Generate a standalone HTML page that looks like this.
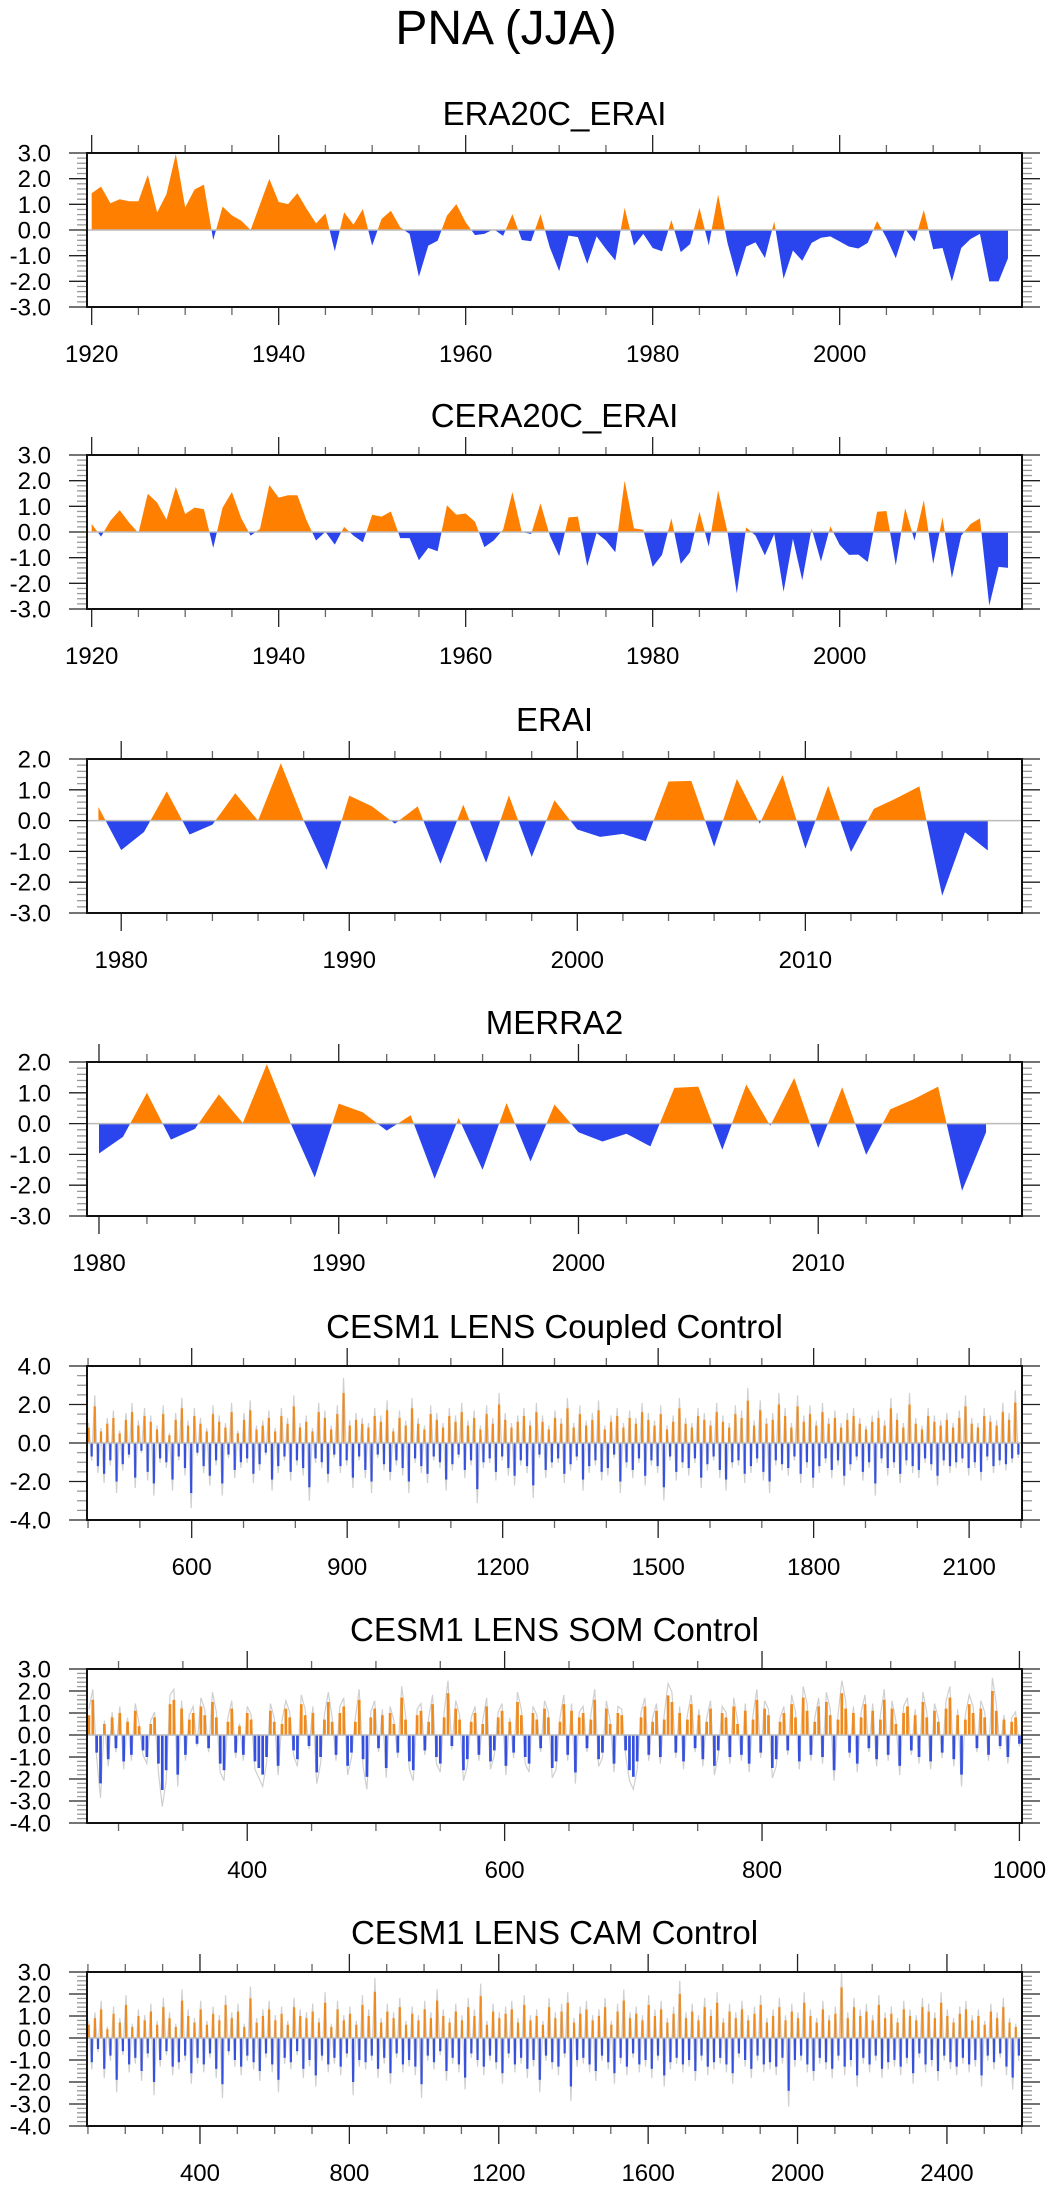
<!DOCTYPE html>
<html><head><meta charset="utf-8"><title>PNA (JJA)</title>
<style>
html,body{margin:0;padding:0;background:#fff;}
svg{display:block;font-family:"Liberation Sans",Arial,sans-serif;}
</style></head>
<body>
<svg id="fig" width="1049" height="2191" viewBox="0 0 1049 2191" xmlns="http://www.w3.org/2000/svg">
<rect x="0" y="0" width="1049" height="2191" fill="#fff"/>
<text x="506" y="44" font-size="48" text-anchor="middle" fill="#000">PNA (JJA)</text>
</svg>
<script>
const era20cVals=[1.43,1.69,1.04,1.2,1.12,1.12,2.15,0.68,1.4,2.96,0.88,1.58,1.77,-0.39,0.91,0.57,0.36,0.0,1.0,1.99,1.09,1.01,1.43,0.82,0.26,0.65,-0.83,0.69,0.21,0.82,-0.61,0.43,0.75,0.1,-0.15,-1.82,-0.61,-0.42,0.56,1.01,0.3,-0.2,-0.15,0.03,-0.23,0.62,-0.39,-0.44,0.62,-0.68,-1.6,-0.22,-0.28,-1.32,-0.25,-0.74,-1.19,0.86,-0.61,-0.15,-0.7,-0.83,0.39,-0.86,-0.55,0.86,-0.6,1.38,-0.5,-1.84,-0.65,-0.48,-1.09,0.33,-1.9,-0.8,-1.2,-0.5,-0.3,-0.25,-0.45,-0.65,-0.72,-0.5,0.35,-0.3,-1.1,0.05,-0.45,0.78,-0.75,-0.7,-2.0,-0.7,-0.35,-0.15,-2.0,-2.0,-1.1];
const cera20cVals=[0.31,-0.18,0.44,0.85,0.37,-0.04,1.49,1.15,0.48,1.76,0.7,0.95,0.89,-0.62,0.95,1.56,0.53,-0.14,0.12,1.83,1.34,1.43,1.43,0.44,-0.33,0.01,-0.49,0.2,-0.14,-0.4,0.67,0.6,0.8,-0.24,-0.24,-1.1,-0.62,-0.75,1.04,0.67,0.72,0.4,-0.59,-0.33,0.09,1.56,0.0,-0.08,1.12,-0.14,-0.94,0.57,0.6,-1.33,-0.04,-0.33,-0.79,2.0,0.14,0.09,-1.36,-0.89,0.53,-1.24,-0.79,0.79,-0.57,1.62,0.0,-2.39,0.18,-0.14,-0.91,-0.08,-2.33,-0.27,-1.88,0.14,-1.15,0.22,-0.5,-0.89,-0.88,-1.17,0.79,0.82,-1.3,0.93,-0.33,1.24,-1.24,0.57,-1.79,-0.14,0.31,0.53,-2.87,-1.36,-1.4];
const eraiVals=[0.44,-0.96,-0.37,0.95,-0.45,-0.13,0.89,0.0,1.86,0.0,-1.6,0.81,0.46,-0.1,0.46,-1.4,0.52,-1.37,0.82,-1.18,0.66,-0.29,-0.53,-0.43,-0.67,1.27,1.29,-0.85,1.35,-0.1,1.48,-0.91,1.13,-1.02,0.38,0.73,1.11,-2.44,-0.38,-0.97];
const merra2Vals=[-0.97,-0.43,1.0,-0.52,-0.17,0.95,0.02,1.93,0.0,-1.75,0.65,0.37,-0.23,0.27,-1.79,0.18,-1.5,0.67,-1.23,0.62,-0.28,-0.58,-0.33,-0.74,1.16,1.2,-0.85,1.27,-0.07,1.48,-0.79,1.18,-1.01,0.46,0.8,1.2,-2.18,-0.28];
const coupledVals=[0.8,-0.7,1.9,-1.2,0.6,-1.6,1.0,-0.9,1.3,-2.0,0.5,-1.1,1.2,-0.6,1.6,-1.8,0.9,-0.4,1.4,-1.5,1.1,-2.1,0.7,-0.8,1.5,-1.0,0.4,-1.9,1.2,-0.7,1.8,-1.3,0.9,-2.6,1.4,-0.5,1.0,-1.2,0.6,-1.7,1.5,-0.9,1.1,-2.1,0.8,-0.6,1.6,-1.4,0.5,-1.0,1.2,-0.8,1.7,-1.6,0.7,-1.1,0.9,-0.5,1.3,-1.9,0.6,-1.2,1.4,-0.7,1.0,-1.5,1.9,-0.9,0.8,-1.3,1.1,-2.3,0.6,-0.8,1.6,-1.0,1.3,-1.6,0.7,-0.6,1.5,-1.2,2.6,-0.9,0.9,-1.8,1.2,-0.7,1.0,-1.4,0.8,-2.0,1.4,-0.6,1.1,-1.1,1.7,-1.5,0.6,-0.9,1.3,-1.3,0.9,-2.0,1.8,-0.8,1.0,-1.2,0.7,-1.6,1.5,-0.7,1.2,-1.0,0.8,-1.9,1.4,-1.1,1.1,-0.6,1.6,-1.4,0.9,-0.9,1.3,-2.4,0.7,-1.0,1.5,-0.8,1.0,-1.5,2.0,-0.7,1.2,-1.3,0.8,-1.7,1.1,-0.9,1.4,-1.2,0.9,-2.2,1.6,-0.6,1.1,-1.4,0.7,-1.0,1.3,-0.8,1.0,-1.6,1.8,-1.1,0.8,-0.7,1.5,-1.9,0.9,-1.2,1.2,-0.9,1.7,-1.5,0.7,-1.3,1.1,-0.6,1.4,-2.0,0.8,-1.0,1.3,-1.4,1.0,-0.8,1.6,-1.7,1.2,-0.9,0.9,-1.2,1.5,-2.3,0.7,-0.7,1.1,-1.5,1.8,-1.0,1.0,-1.3,0.8,-0.8,1.4,-1.8,1.2,-1.1,0.9,-0.7,1.6,-1.4,1.1,-1.9,0.8,-1.0,1.5,-0.9,1.3,-1.6,2.2,-1.2,0.9,-0.8,1.7,-1.5,1.0,-2.0,1.2,-0.9,2.0,-1.1,1.4,-1.3,0.8,-0.7,1.9,-1.6,1.1,-1.0,1.5,-1.8,0.9,-1.2,1.6,-0.8,1.0,-1.4,1.3,-0.9,0.8,-1.7,1.2,-1.1,1.4,-0.7,1.0,-1.5,0.7,-1.0,1.1,-2.1,1.3,-0.8,0.9,-1.3,1.8,-1.0,1.2,-1.6,0.8,-0.9,2.0,-1.2,1.0,-1.4,0.7,-0.8,1.4,-1.1,1.1,-1.7,0.9,-0.9,1.2,-1.2,0.8,-1.0,1.3,-0.8,1.9,-1.3,1.0,-1.0,0.8,-1.5,1.4,-0.7,1.1,-1.2,0.9,-0.9,1.6,-1.1,1.2,-0.8,2.1,-0.6];
const somVals=[0.9,1.6,-0.8,-2.2,0.5,-1.1,0.8,-0.6,1.0,-1.2,0.6,-0.9,1.1,0.4,-0.7,-1.0,0.5,0.8,-1.3,-2.5,-1.6,1.4,1.6,-1.8,1.2,-0.9,0.7,1.0,-0.4,1.3,0.9,-0.6,1.5,0.8,-1.3,-1.6,0.6,1.2,-0.8,0.4,-0.9,1.0,0.7,-1.2,-1.5,-1.8,-1.0,1.1,0.6,-1.4,0.5,1.2,0.8,-0.7,-1.1,1.4,0.9,-0.5,1.0,-1.7,-1.0,0.7,1.5,0.6,-0.9,1.0,1.3,-1.4,-0.8,0.6,1.6,-1.1,-1.9,0.8,1.2,-0.6,0.9,-1.5,1.0,0.5,-0.8,1.7,0.7,-1.2,-1.6,0.9,1.1,-0.7,0.6,1.4,-1.0,-1.3,0.8,1.9,-0.5,1.2,0.7,-1.6,-1.1,0.6,1.0,-0.9,0.5,1.3,-1.2,-0.7,0.8,1.1,-1.4,0.6,-0.8,1.5,0.9,-1.0,-1.3,1.0,0.7,-0.6,1.2,0.8,-1.5,-1.2,0.6,1.4,-0.9,1.1,-1.7,0.8,1.0,-0.6,0.7,1.6,-1.1,-0.8,1.2,0.5,-1.3,1.0,0.9,-0.7,-1.6,-1.9,-1.2,0.8,1.3,-0.9,0.6,1.1,-1.0,0.7,1.8,1.5,-0.8,1.0,-1.2,0.7,1.4,-0.6,0.9,-1.1,0.6,1.2,-1.4,-0.7,1.0,0.8,-1.0,1.3,0.5,-0.9,1.1,-1.3,0.7,1.6,-0.8,1.2,0.9,-1.5,-1.1,0.6,1.0,-0.7,1.4,0.8,-1.2,1.7,1.1,-0.9,0.6,1.3,-1.0,1.5,0.9,-1.6,0.7,1.9,1.2,-0.8,1.0,-1.3,0.8,1.4,-0.6,1.1,-1.1,0.7,1.6,-0.9,1.2,0.5,-1.4,1.0,1.3,-0.7,0.9,-1.0,1.5,0.8,-1.2,1.1,0.6,-0.8,1.2,1.7,-1.1,0.9,-1.8,0.7,1.4,1.0,-0.6,1.2,0.8,-0.9,2.0,1.1,-0.5,0.7,-1.0,0.6,0.8,-0.4];
const camVals=[0.6,-1.1,0.9,-0.5,1.3,-1.4,0.4,-0.8,1.1,-1.9,0.7,-0.6,1.5,-1.2,0.5,-0.9,1.0,-1.5,0.8,-0.7,1.2,-2.0,0.6,-1.0,1.4,-0.6,0.9,-1.3,0.5,-1.1,1.7,-0.8,1.0,-1.6,0.7,-0.9,1.3,-1.2,0.6,-0.7,1.1,-1.4,0.8,-2.1,1.5,-0.6,0.9,-1.0,1.2,-1.3,0.5,-0.8,1.8,-1.1,0.7,-1.5,1.0,-0.7,1.3,-1.2,0.8,-1.9,1.1,-0.9,0.6,-1.1,1.4,-0.6,1.0,-1.4,0.9,-1.0,1.2,-1.7,0.7,-0.8,1.6,-1.2,0.5,-0.9,1.3,-1.3,0.8,-0.7,1.1,-2.0,0.6,-1.0,1.5,-1.1,1.0,-0.8,2.1,-1.4,0.7,-0.9,1.2,-1.6,0.9,-0.7,1.4,-1.2,0.6,-1.0,1.1,-1.3,0.8,-2.1,1.3,-0.8,0.9,-1.1,1.7,-0.6,1.0,-1.5,0.7,-0.9,1.2,-1.2,0.8,-1.8,1.4,-0.7,1.0,-1.0,1.9,-1.3,0.6,-0.8,1.2,-1.1,0.9,-1.6,1.1,-0.7,1.3,-1.2,0.7,-0.9,1.5,-1.4,0.8,-1.0,1.0,-1.9,0.6,-0.8,1.4,-1.1,0.9,-1.3,1.2,-0.7,1.6,-2.2,0.7,-1.0,1.1,-0.9,1.3,-1.2,0.8,-1.5,1.0,-0.8,1.4,-1.1,0.6,-1.6,1.2,-0.9,1.7,-1.3,0.9,-0.7,1.1,-1.2,0.8,-1.0,1.5,-1.4,1.0,-0.8,1.3,-1.7,0.7,-1.1,1.1,-0.9,2.0,-1.2,0.9,-1.0,1.2,-1.5,0.8,-0.8,1.4,-1.3,1.0,-1.1,1.6,-0.9,0.7,-1.2,1.2,-1.6,0.9,-0.7,1.3,-1.0,0.8,-1.4,1.1,-0.8,1.5,-1.2,0.7,-1.1,1.0,-1.3,1.4,-0.9,0.8,-2.4,1.2,-1.0,0.9,-0.8,1.6,-1.2,1.0,-1.5,0.7,-0.9,1.3,-1.1,0.8,-1.4,1.1,-0.8,2.3,-1.3,0.9,-1.0,1.4,-1.7,1.0,-0.9,1.2,-1.2,0.8,-0.8,1.5,-1.4,0.9,-1.1,1.1,-1.0,0.7,-1.3,1.3,-0.9,1.0,-1.6,0.8,-0.7,1.4,-1.2,1.2,-1.0,0.9,-1.5,1.6,-0.8,1.0,-1.1,0.7,-1.3,1.1,-0.9,1.3,-1.2,0.8,-1.0,1.0,-1.7,0.6,-0.8,1.2,-1.1,0.9,-0.7,1.4,-1.3,0.7,-1.8,0.5,-0.8];

const NS='http://www.w3.org/2000/svg';
const svg=document.getElementById('fig');
const ORANGE='#ff8000', BLUE='#2a45ee';
const L=87, R=1022, H=154;
function mk(tag,attrs,parent){const e=document.createElementNS(NS,tag);for(const k in attrs)e.setAttribute(k,attrs[k]);(parent||svg).appendChild(e);return e;}

const panels=[
 {key:'era20c',title:'ERA20C_ERAI',top:153,ymin:-3,ymax:3,ymaj:1,ymin_t:0.2,xmin:1919.5,xmax:2019.5,xmaj:20,xmi:5,type:'area',x0:1920,xstep:1,vals:era20cVals},
 {key:'cera20c',title:'CERA20C_ERAI',top:455,ymin:-3,ymax:3,ymaj:1,ymin_t:0.2,xmin:1919.5,xmax:2019.5,xmaj:20,xmi:5,type:'area',x0:1920,xstep:1,vals:cera20cVals},
 {key:'erai',title:'ERAI',top:759,ymin:-3,ymax:2,ymaj:1,ymin_t:0.2,xmin:1978.5,xmax:2019.5,xmaj:10,xmi:2,type:'area',x0:1979,xstep:1,vals:eraiVals},
 {key:'merra2',title:'MERRA2',top:1062,ymin:-3,ymax:2,ymaj:1,ymin_t:0.2,xmin:1979.5,xmax:2018.5,xmaj:10,xmi:2,type:'area',x0:1980,xstep:1,vals:merra2Vals},
 {key:'coupled',title:'CESM1 LENS Coupled Control',top:1366,ymin:-4,ymax:4,ymaj:2,ymin_t:0.5,xmin:398,xmax:2202,xmaj:300,xmi:100,type:'bar',x0:401,xstep:6,vals:coupledVals},
 {key:'som',title:'CESM1 LENS SOM Control',top:1669,ymin:-4,ymax:3,ymaj:1,ymin_t:0.2,xmin:275.5,xmax:1002,xmaj:200,xmi:50,type:'bar',x0:277,xstep:3,vals:somVals},
 {key:'cam',title:'CESM1 LENS CAM Control',top:1972,ymin:-4,ymax:3,ymaj:1,ymin_t:0.2,xmin:97.5,xmax:2601,xmaj:400,xmi:100,type:'bar',x0:102,xstep:8.33,vals:camVals}
];

panels.forEach(p=>{
  const g=mk('g',{});
  
  
  const T=p.top,B=p.top+H;
  const sx=v=>L+(v-p.xmin)/(p.xmax-p.xmin)*(R-L);
  const sy=v=>B-(v-p.ymin)/(p.ymax-p.ymin)*H;
  const t=mk('text',{x:(L+R)/2,y:T-28,'font-size':33,'text-anchor':'middle',fill:'#000'},g);
  t.textContent=p.title;
  
  
  const y0=sy(0);
  const xs=p.vals.map((v,i)=>p.x0+i*p.xstep);
  if(p.type==='area'){
    let pos='M'+sx(xs[0])+','+y0, neg='M'+sx(xs[0])+','+y0;
    for(let i=0;i<p.vals.length;i++){
      const v=p.vals[i],x=sx(xs[i]);
      if(i>0){const u=p.vals[i-1];
        if((u>0&&v<0)||(u<0&&v>0)){const f=u/(u-v);const xc=sx(xs[i-1]+f*p.xstep);pos+=' L'+xc+','+y0;neg+=' L'+xc+','+y0;}}
      pos+=' L'+x+','+sy(Math.max(v,0));
      neg+=' L'+x+','+sy(Math.min(v,0));
    }
    const xe=sx(xs[xs.length-1]);
    pos+=' L'+xe+','+y0+' Z';neg+=' L'+xe+','+y0+' Z';
    const a=mk('path',{d:pos,fill:ORANGE,stroke:'none'},g);
    
    
    const b=mk('path',{d:neg,fill:BLUE,stroke:'none'},g);
    
    
  } else {
    const pts=p.vals.map((v,i)=>sx(xs[i])+','+sy(v*1.3)).join(' ');
    const gl=mk('polyline',{points:pts,fill:'none',stroke:'#cfcfcf','stroke-width':1.2},g);
    
    
    const bw=Math.max(1.3,(R-L)/p.vals.length*0.7);
    p.vals.forEach((v,i)=>{
      const y=sy(v);
      const r=mk('rect',{x:sx(xs[i])-bw/2,y:Math.min(y,y0),width:bw,height:Math.abs(y-y0),fill:v>=0?'#f08a1c':'#3550e0'},g);
      
      
    });
  }
  const z=mk('line',{x1:L,x2:R,y1:y0,y2:y0,stroke:'#bbb','stroke-width':1.5},g);
  
  
  const nmin=Math.round((p.ymax-p.ymin)/p.ymin_t);
  for(let k=0;k<=nmin;k++){
    const v=p.ymin+k*p.ymin_t, y=sy(v);
    const isMaj=Math.abs(v/p.ymaj-Math.round(v/p.ymaj))<1e-6;
    const len=isMaj?18:10, col=isMaj?'#222':'#999';
    mk('line',{x1:L-len,x2:L,y1:y,y2:y,stroke:col,'stroke-width':1.3},g);
    mk('line',{x1:R,x2:R+len,y1:y,y2:y,stroke:col,'stroke-width':1.3},g);
    if(isMaj){
      const lt=mk('text',{x:51,y:y+8.5,'font-size':24,'text-anchor':'end',fill:'#000'},g);
      lt.textContent=v.toFixed(1);
      
      
    }
  }
  for(let v=Math.ceil(p.xmin/p.xmi)*p.xmi; v<=p.xmax; v+=p.xmi){
    const x=sx(v), isMaj=(v%p.xmaj===0);
    const len=isMaj?18:8, col=isMaj?'#222':'#666';
    mk('line',{x1:x,x2:x,y1:T-len,y2:T,stroke:col,'stroke-width':1.3},g);
    mk('line',{x1:x,x2:x,y1:B,y2:B+len,stroke:col,'stroke-width':1.3},g);
    if(isMaj){
      const lt=mk('text',{x:x,y:B+55,'font-size':24,'text-anchor':'middle',fill:'#000'},g);
      lt.textContent=String(v);
      
      
    }
  }
  const fr=mk('rect',{x:L,y:T,width:R-L,height:H,fill:'none',stroke:'#111','stroke-width':2},g);
  
  
});
</script>
</body></html>
